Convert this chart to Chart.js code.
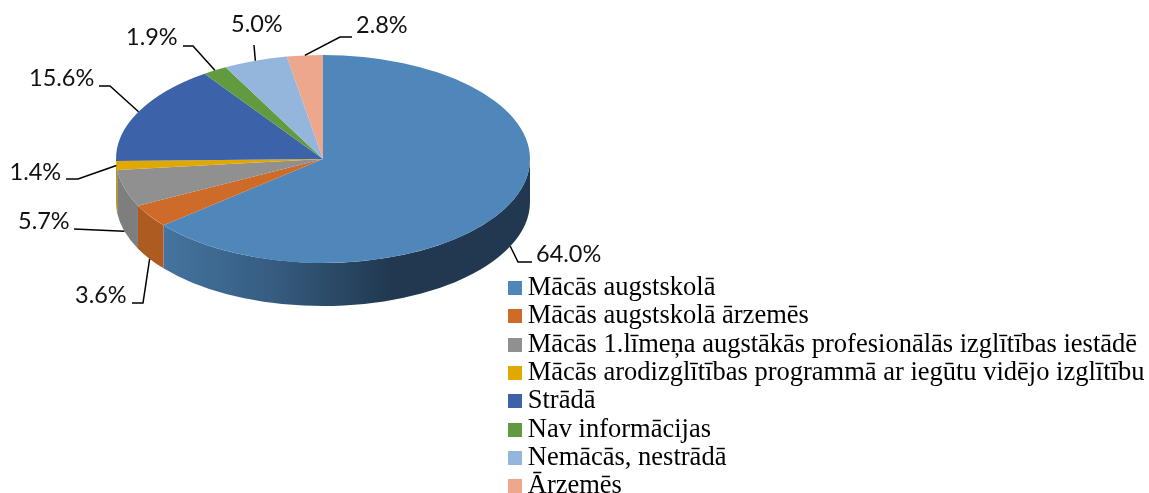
<!DOCTYPE html>
<html>
<head>
<meta charset="utf-8">
<style>html,body{margin:0;padding:0;background:#fff}#wrap{width:1149px;height:493px;position:relative}</style>
<script src="https://cdn.jsdelivr.net/npm/chart.js@4"></script>
</head>
<body>
<div id="wrap"><canvas id="c" width="1149" height="493"></canvas></div>
<script>
const categories = ["Mācās augstskolā","Mācās augstskolā ārzemēs","Mācās 1.līmeņa augstākās profesionālās izglītības iestādē","Mācās arodizglītības programmā ar iegūtu vidējo izglītību","Strādā","Nav informācijas","Nemācās, nestrādā","Ārzemēs"];
const shares = [64.0,3.6,5.7,1.4,15.6,1.9,5.0,2.8];
const topColors = ["#4F87BA","#CF6B28","#909090","#E1A800","#3C63A9","#629A40","#95B6DC","#ECA78D"];
const wallColors = ["#213850","#AE5B21","#7E7E7E","#C99600","#2C4A80","#4A7530","#7088A8","#B07E6A"];

// geometry of the tilted pie on the page
const CX = 323, CY = 159, RX = 207, RY = 104, DEPTH = 43;
// leader-line elbows and label anchors, one per slice
const labelLayout = [
  {wall:true,  pts:[[518,262],[532,262]], tx:536, ty:254},
  {wall:true,  pts:[[143,303],[132,303]], tx:75,  ty:295},
  {wall:true,  pts:[[74,229]],            tx:18,  ty:221},
  {wall:false, pts:[[78,179],[66,179]],   tx:9.5, ty:172},
  {wall:false, pts:[[110,86],[99,86]],    tx:29,  ty:78},
  {wall:false, pts:[[193,46],[183,46]],   tx:126, ty:37},
  {wall:false, pts:[[254,45]],            tx:231, ty:24},
  {wall:false, pts:[[340,37],[352,37]],   tx:356, ty:25}
];

// legend swatch: 14px square, right-aligned on a transparent strip so it sits clear of the text
function swatch(color){
  const s = document.createElement('canvas');
  s.width = 20; s.height = 14;
  const g = s.getContext('2d');
  g.fillStyle = color; g.fillRect(6,0,14,14);
  return s;
}

const pie3d = {
  id:'pie3d',
  beforeDraw(chart){
    const l = chart.legend;
    l.left = 507.7; l.right = 1149; l.top = 273; l.bottom = 520;
  },
  beforeDatasetsDraw(chart){
    const ctx = chart.ctx, arcs = chart.getDatasetMeta(0).data;
    ctx.save();
    arcs.forEach((a,i)=>{
      const p = a.getProps(['startAngle','endAngle']);
      const a0 = Math.max(p.startAngle,0), a1 = Math.min(p.endAngle,Math.PI);
      if (a1 <= a0) return;
      ctx.beginPath();
      ctx.ellipse(CX,CY,RX,RY,0,a0,a1,false);
      ctx.ellipse(CX,CY+DEPTH,RX,RY,0,a1,a0,true);
      ctx.closePath();
      if (i === 0){
        const g = ctx.createLinearGradient(163,0,530,0);
        g.addColorStop(0,'#44749F');
        g.addColorStop(0.3,'#365C80');
        g.addColorStop(0.62,'#213850');
        g.addColorStop(1,'#213850');
        ctx.fillStyle = g;
      } else ctx.fillStyle = wallColors[i];
      ctx.fill();
    });
    ctx.restore();
    const r = arcs[0].outerRadius, x = arcs[0].x, y = arcs[0].y;
    ctx.save();
    ctx.translate(CX,CY);
    ctx.scale(RX/r,RY/r);
    ctx.translate(-x,-y);
  },
  afterDatasetsDraw(chart){
    const ctx = chart.ctx, arcs = chart.getDatasetMeta(0).data;
    ctx.restore();
    ctx.save();
    ctx.strokeStyle = '#000'; ctx.lineWidth = 1.5;
    ctx.fillStyle = '#111';
    ctx.font = '23.5px Lato';
    ctx.textBaseline = 'middle'; ctx.textAlign = 'left';
    arcs.forEach((a,i)=>{
      const p = a.getProps(['startAngle','endAngle']);
      const m = (p.startAngle+p.endAngle)/2, L = labelLayout[i];
      ctx.beginPath();
      ctx.moveTo(CX+RX*Math.cos(m), CY+RY*Math.sin(m)+(L.wall?DEPTH:0));
      L.pts.forEach(q=>ctx.lineTo(q[0],q[1]));
      ctx.stroke();
      ctx.fillText(shares[i].toFixed(1)+'%', L.tx, L.ty);
    });
    ctx.restore();
  }
};

new Chart(document.getElementById('c'),{
  type:'pie',
  data:{labels:categories,datasets:[{data:shares,backgroundColor:topColors,borderWidth:0,clip:false}]},
  options:{
    responsive:false,animation:false,events:[],
    layout:{padding:0},
    plugins:{
      tooltip:{enabled:false},
      legend:{
        display:true,position:'right',align:'start',maxWidth:640,
        labels:{
          usePointStyle:true,pointStyleWidth:5,boxHeight:14,padding:1.8,color:'#000',
          font:{family:'"Liberation Serif"',size:26.5},
          generateLabels(chart){
            return Chart.overrides.doughnut.plugins.legend.labels.generateLabels(chart)
              .map((it,i)=>Object.assign(it,{pointStyle:swatch(topColors[i])}));
          }
        }
      }
    }
  },
  plugins:[pie3d]
});
</script>
</body>
</html>
